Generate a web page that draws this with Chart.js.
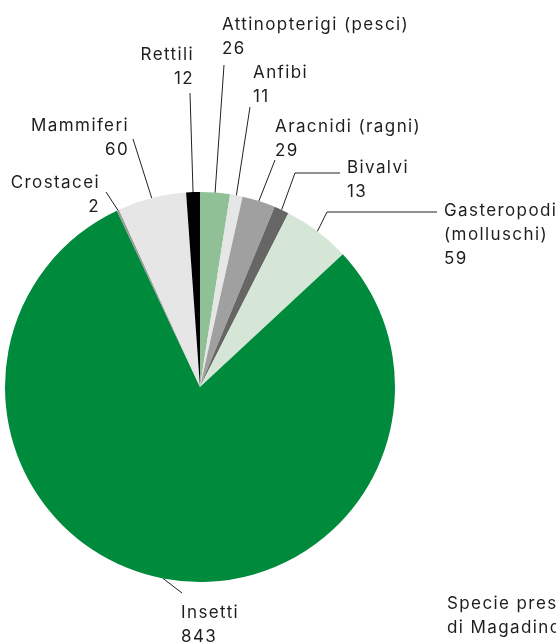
<!DOCTYPE html>
<html>
<head>
<meta charset="utf-8">
<script src="https://cdn.jsdelivr.net/npm/chart.js@4"></script>
<style>
  html, body { margin: 0; padding: 0; background: #fff; }
  #wrap { width: 556px; height: 643px; }
</style>
</head>
<body>
<div id="wrap"><canvas id="pieChart" width="556" height="643"></canvas></div>
<script>
// data, clockwise from the top
const categories = ['Attinopterigi (pesci)', 'Anfibi', 'Aracnidi (ragni)', 'Bivalvi', 'Gasteropodi (molluschi)', 'Insetti', 'Crostacei', 'Mammiferi', 'Rettili'];
const species = [26, 11, 29, 13, 59, 843, 2, 60, 12];
const sliceColors = ['#8fc096', '#e6e6e6', '#a0a0a0', '#666666', '#d5e5d6', '#008a3c', '#999999', '#e6e6e6', '#000000'];

// how each label is written (lines of text)
const labelLines = [
    ['Attinopterigi (pesci)', '26'],
    ['Anfibi', '11'],
    ['Aracnidi (ragni)', '29'],
    ['Bivalvi', '13'],
    ['Gasteropodi', '(molluschi)', '59'],
    ['Insetti', '843'],
    ['Crostacei', '2'],
    ['Mammiferi', '60'],
    ['Rettili', '12']
];

// where labels sit and how the leader lines bend
const labelLayout = [
    { x: 222, y: 25, align: 'left', path: [[224, 65]] },
    { x: 253, y: 73, align: 'left', path: [[250, 107]] },
    { x: 275, y: 127, align: 'left', path: [[275, 160]] },
    { x: 347, y: 168, align: 'left', path: [[295, 173], [340, 173]] },
    { x: 444, y: 211, align: 'left', path: [[327, 212], [437, 212]] },
    { x: 181, y: 613, align: 'left', path: [[182, 593]] },
    { x: 99, y: 183, align: 'right', path: [[106, 192]] },
    { x: 128, y: 126, align: 'right', path: [[133, 139]] },
    { x: 193, y: 55, align: 'right', path: [[190, 93]] }
];

const lineGap = 24;

const leaderPlugin = {
    id: 'leaders',
    afterDraw(chart) {
        const ctx = chart.ctx;
        const arcs = chart.getDatasetMeta(0).data;
        ctx.save();
        ctx.font = '17px Inter';
        ctx.letterSpacing = '1.4px';
        ctx.textBaseline = 'middle';
        arcs.forEach((arc, i) => {
            const p = arc.getProps(['x', 'y', 'startAngle', 'endAngle', 'outerRadius'], true);
            const mid = (p.startAngle + p.endAngle) / 2;
            const sx = p.x + Math.cos(mid) * p.outerRadius;
            const sy = p.y + Math.sin(mid) * p.outerRadius;
            const lay = labelLayout[i];

            ctx.strokeStyle = '#222';
            ctx.lineWidth = 1;
            ctx.beginPath();
            ctx.moveTo(sx, sy);
            lay.path.forEach(pt => ctx.lineTo(pt[0], pt[1]));
            ctx.stroke();

            ctx.fillStyle = '#1e1e1e';
            ctx.textAlign = lay.align;
            // right-aligned text gets trailing letter spacing, nudge it back
            const dx = lay.align === 'right' ? 1 : 0;
            labelLines[i].forEach((t, k) => ctx.fillText(t, lay.x + dx, lay.y + k * lineGap));
        });

        // caption at bottom right (runs off the edge)
        ctx.textAlign = 'left';
        ctx.fillText('Specie presenti nelle Bolle', 447, 604);
        ctx.fillText('di Magadino', 447, 628);
        ctx.restore();
    }
};

const ctx = document.getElementById('pieChart').getContext('2d');
new Chart(ctx, {
    type: 'pie',
    data: {
        labels: categories,
        datasets: [{
            data: species,
            backgroundColor: sliceColors,
            borderWidth: 0
        }]
    },
    options: {
        responsive: false,
        animation: false,
        layout: {
            padding: { left: 5, right: 161, top: 192, bottom: 61 }
        },
        plugins: {
            legend: { display: false },
            tooltip: { enabled: false }
        }
    },
    plugins: [leaderPlugin]
});
</script>
</body>
</html>
